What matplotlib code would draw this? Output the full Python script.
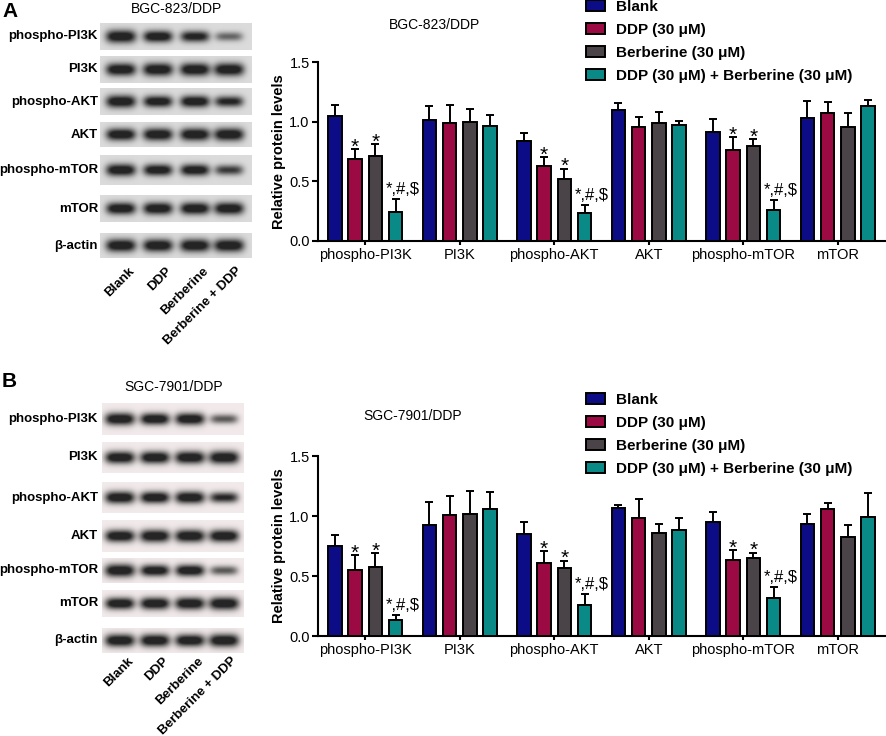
import numpy as np
import matplotlib
matplotlib.use('Agg')
import matplotlib.pyplot as plt
from matplotlib.patches import Patch

plt.rcParams['font.family'] = ['Liberation Sans', 'DejaVu Sans']

W, H = 886, 736

# ---------------- data ----------------
categories = ['phospho-PI3K', 'PI3K', 'phospho-AKT', 'AKT', 'phospho-mTOR', 'mTOR']
series = ['Blank', 'DDP (30 μM)', 'Berberine (30 μM)', 'DDP (30 μM) + Berberine (30 μM)']
colors = ['#0c0c86', '#9c0a44', '#4a4347', '#0a8a86']

# Panel A: BGC-823/DDP
a_blank = [1.05, 1.01, 0.835, 1.10, 0.91, 1.03]
a_blank_err = [0.09, 0.12, 0.07, 0.06, 0.11, 0.14]
a_ddp = [0.69, 0.99, 0.625, 0.955, 0.76, 1.07]
a_ddp_err = [0.08, 0.15, 0.08, 0.085, 0.11, 0.095]
a_ber = [0.71, 0.995, 0.52, 0.985, 0.80, 0.955]
a_ber_err = [0.10, 0.11, 0.085, 0.10, 0.055, 0.12]
a_comb = [0.245, 0.965, 0.237, 0.97, 0.257, 1.135]
a_comb_err = [0.105, 0.09, 0.062, 0.037, 0.084, 0.047]

# Panel B: SGC-7901/DDP
b_blank = [0.75, 0.925, 0.85, 1.07, 0.95, 0.93]
b_blank_err = [0.09, 0.19, 0.10, 0.025, 0.083, 0.083]
b_ddp = [0.55, 1.01, 0.605, 0.98, 0.632, 1.06]
b_ddp_err = [0.125, 0.156, 0.10, 0.164, 0.081, 0.045]
b_ber = [0.573, 1.02, 0.568, 0.86, 0.651, 0.829]
b_ber_err = [0.117, 0.186, 0.061, 0.07, 0.042, 0.097]
b_comb = [0.131, 1.06, 0.262, 0.882, 0.32, 0.994]
b_comb_err = [0.045, 0.14, 0.089, 0.103, 0.089, 0.20]

# significance marks per series
blank_marks = ['', '', '', '', '', '']
ddp_marks = ['*', '', '*', '', '*', '']
ber_marks = ['*', '', '*', '', '*', '']
comb_marks = ['*,#,$', '', '*,#,$', '', '*,#,$', '']

# western blot
blot_rows = ['phospho-PI3K', 'PI3K', 'phospho-AKT', 'AKT', 'phospho-mTOR', 'mTOR', 'β-actin']
lanes = ['Blank', 'DDP', 'Berberine', 'Berberine + DDP']
a_band = [[1.00, 0.80, 0.72, 0.42],
          [0.95, 1.00, 1.00, 1.00],
          [0.95, 0.78, 0.82, 0.68],
          [0.88, 0.92, 0.95, 0.98],
          [0.88, 0.78, 0.78, 0.58],
          [0.85, 0.88, 0.88, 0.90],
          [0.98, 0.95, 0.98, 1.00]]
b_band = [[0.92, 0.82, 0.85, 0.48],
          [0.90, 0.90, 0.95, 1.00],
          [0.90, 0.82, 0.88, 0.66],
          [0.88, 0.95, 0.95, 0.90],
          [1.00, 0.78, 0.80, 0.48],
          [0.82, 0.88, 0.92, 0.98],
          [0.95, 0.95, 0.90, 1.00]]

fig = plt.figure(figsize=(W / 100, H / 100), dpi=100)
canvas = fig.add_axes([0, 0, 1, 1])
canvas.set_xlim(0, W)
canvas.set_ylim(H, 0)
canvas.axis('off')


def draw_blot(x0, x1, strips, lane_x, bands, bg, hw):
    for (y0, y1), vals in zip(strips, bands):
        res = 3
        nx = int((x1 - x0) * res)
        ny = int((y1 - y0) * res)
        xs = x0 + (np.arange(nx) + 0.5) / res
        ys = y0 + (np.arange(ny) + 0.5) / res
        X, Y = np.meshgrid(xs, ys)
        cy = (y0 + y1) / 2
        d = np.zeros_like(X)
        for cx, v in zip(lane_x, vals):
            sy = 2.2 + 2.3 * v
            w = hw * (0.85 + 0.15 * v)
            d += min(1.0, 1.25 * v) * np.exp(-np.abs((X - cx) / w) ** 4) * np.exp(-0.5 * ((Y - cy) / sy) ** 2)
        d = np.clip(d * 1.15, 0, 0.92)
        bgc = np.array(bg)
        dark = np.array([0.08, 0.08, 0.08])
        img = bgc[None, None, :] * (1 - d[..., None]) + dark[None, None, :] * d[..., None]
        canvas.imshow(img, extent=[x0, x1, y1, y0], aspect='auto', interpolation='bilinear', zorder=1)


def draw_blot_panel(title, title_xy, strips, x0, x1, lane_x, bands, bg, label_x, lane_label_y):
    canvas.text(title_xy[0], title_xy[1], title, ha='center', va='center', fontsize=10)
    draw_blot(x0, x1, strips, lane_x, bands, bg, 15)
    for (y0, y1), name in zip(strips, blot_rows):
        canvas.text(label_x, (y0 + y1) / 2, name, ha='right', va='center', fontsize=9.5, fontweight='bold')
    for lx, name in zip(lane_x, lanes):
        canvas.text(lx + 7, lane_label_y, name, ha='right', va='top', rotation=45,
                    rotation_mode='anchor', fontsize=9.5, fontweight='bold')


strips_a = [(23, 50), (56, 83), (88, 115), (122, 147), (155, 185), (195, 222), (233, 258)]
strips_b = [(403, 435), (442, 473), (482, 513), (520, 552), (558, 583), (590, 617), (628, 653)]
draw_blot_panel('BGC-823/DDP', (177, 9), strips_a, 100, 252, [121, 158, 195, 229], a_band,
                (0.86, 0.86, 0.86), 98, 265)
draw_blot_panel('SGC-7901/DDP', (174, 387), strips_b, 102, 244, [120, 155, 190, 224], b_band,
                (0.95, 0.92, 0.92), 98, 655)

canvas.text(2, 2, 'A', ha='left', va='top', fontsize=15, fontweight='bold')
canvas.text(2, 372, 'B', ha='left', va='top', fontsize=15, fontweight='bold')

offsets = [-0.3225, -0.1075, 0.1075, 0.3225]
bar_w = 0.143


def bar_panel(top, bottom, title, title_xy, vals, errs, marks, legend_top):
    ax = fig.add_axes([318 / W, 1 - bottom / H, 567 / W, (bottom - top) / H])
    ax.patch.set_alpha(0)
    x = np.arange(len(categories))
    for i in range(4):
        xi = x + offsets[i]
        ax.bar(xi, vals[i], width=bar_w, color=colors[i], edgecolor='black', linewidth=1.4, zorder=3)
        ax.errorbar(xi, vals[i], yerr=[np.zeros(len(x)), errs[i]], fmt='none', ecolor='black',
                    elinewidth=1.4, capsize=3, capthick=1.4, zorder=2)
        for j in range(len(x)):
            m = marks[i][j]
            if not m:
                continue
            ytop = vals[i][j] + errs[i][j]
            if m == '*':
                ax.annotate(m, (xi[j], ytop), xytext=(0, -2.5), textcoords='offset points',
                            ha='center', va='baseline', fontsize=15)
            else:
                ax.annotate(m, (xi[j], ytop), xytext=(5, 3.5), textcoords='offset points',
                            ha='center', va='baseline', fontsize=12)
    ax.set_xlim(-0.5, 5.5)
    ax.set_ylim(0, 1.5)
    ax.set_yticks([0, 0.5, 1.0, 1.5])
    ax.set_yticklabels(['0.0', '0.5', '1.0', '1.5'])
    ax.set_xticks(x)
    ax.set_xticklabels(categories)
    for s in ['top', 'right']:
        ax.spines[s].set_visible(False)
    for s in ['left', 'bottom']:
        ax.spines[s].set_linewidth(1.5)
    ax.tick_params(axis='y', length=4, width=1.5, pad=2, labelsize=10.5)
    ax.tick_params(axis='x', length=3, width=1.5, pad=2, labelsize=10.5)
    ax.set_ylabel('Relative protein levels', fontsize=10.5, fontweight='bold')
    ax.yaxis.set_label_coords(-0.056, 0.5)
    canvas.text(title_xy[0], title_xy[1], title, ha='center', va='center', fontsize=10)
    handles = [Patch(facecolor=c, edgecolor='black', linewidth=1.4) for c in colors]
    fig.legend(handles, series, loc='upper left', bbox_to_anchor=(586 / W, 1 - legend_top / H),
               bbox_transform=fig.transFigure, frameon=False,
               prop={'weight': 'bold', 'size': 11}, handlelength=1.25, handleheight=0.7,
               handletextpad=0.7, labelspacing=0.58, borderpad=0, borderaxespad=0)
    return ax


bar_panel(62, 241, 'BGC-823/DDP', (435, 25),
          [a_blank, a_ddp, a_ber, a_comb], [a_blank_err, a_ddp_err, a_ber_err, a_comb_err],
          [blank_marks, ddp_marks, ber_marks, comb_marks], 0)
bar_panel(456, 636, 'SGC-7901/DDP', (413, 416),
          [b_blank, b_ddp, b_ber, b_comb], [b_blank_err, b_ddp_err, b_ber_err, b_comb_err],
          [blank_marks, ddp_marks, ber_marks, comb_marks], 393)

fig.savefig('out.png', dpi=100)
